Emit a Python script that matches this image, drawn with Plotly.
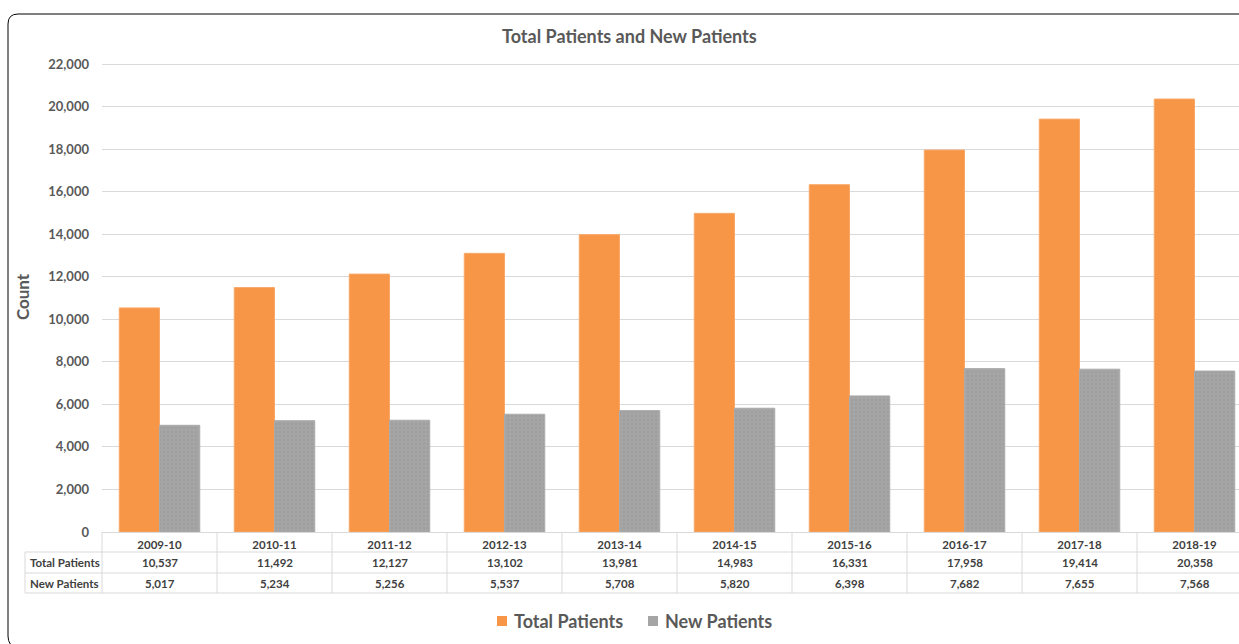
import plotly.graph_objects as go

# Fiscal years and patient counts
years = ["2009-10", "2010-11", "2011-12", "2012-13", "2013-14",
         "2014-15", "2015-16", "2016-17", "2017-18", "2018-19"]
total_patients = [10537, 11492, 12127, 13102, 13981, 14983, 16331, 17958, 19414, 20358]
new_patients = [5017, 5234, 5256, 5537, 5708, 5820, 6398, 7682, 7655, 7568]
y_ticks = [0, 2000, 4000, 6000, 8000, 10000, 12000, 14000, 16000, 18000, 20000, 22000]
series_names = ["Total Patients", "New Patients"]

W, H = 1239, 644
ML, MB = 102, 112
Y_TOP = 22100            # small headroom so the 22,000 gridline is drawn
PX_PER_UNIT = 468 / 22000
MT = round(64 - (Y_TOP - 22000) * PX_PER_UNIT)
PW = W - ML
PH = H - MT - MB
CAT_PX = 115  # pixel width of one category slot

FONT = "Lato"
TXT = "#595959"
CELL_TXT = "#404040"
GRID = "#D9D9D9"
ORANGE = "#F79646"
GRAY = "#A5A5A5"
COLORS = [ORANGE, GRAY]


def px(x):
    return (x - ML) / PW


def py(y):
    return (H - MB - y) / PH


fig = go.Figure()
fig.add_trace(go.Bar(
    x=years, y=total_patients, name=series_names[0], showlegend=False,
    marker=dict(color=ORANGE, line=dict(color="#F9A868", width=1)),
))
fig.add_trace(go.Bar(
    x=years, y=new_patients, name=series_names[1], showlegend=False,
    marker=dict(color=GRAY, line=dict(color="#ABABAB", width=1),
                pattern=dict(shape=".", fgcolor="#969696", bgcolor=GRAY,
                             size=4, solidity=0.25)),
))

shapes = []
# data table grid under the axis
for y in [552, 573, 593]:
    shapes.append(dict(type="line", xref="paper", yref="paper",
                       x0=px(25), x1=1.05, y0=py(y), y1=py(y),
                       line=dict(color=GRID, width=1)))
shapes.append(dict(type="line", xref="paper", yref="paper",
                   x0=px(25), x1=px(25), y0=py(552), y1=py(593),
                   line=dict(color=GRID, width=1)))
shapes.append(dict(type="line", xref="paper", yref="paper",
                   x0=0, x1=0, y0=py(532), y1=py(593),
                   line=dict(color=GRID, width=1)))
for i in range(1, len(years) + 1):
    shapes.append(dict(type="line", xref="x", yref="paper",
                       x0=i - 0.5, x1=i - 0.5, y0=py(532), y1=py(593),
                       line=dict(color=GRID, width=1)))

# rounded chart frame
frame = (f"M {px(17)},{py(648)} Q {px(8)},{py(646)} {px(8)},{py(636)} "
         f"L {px(8)},{py(24)} Q {px(8)},{py(14)} {px(18)},{py(14)} "
         f"L {px(1260)},{py(14)}")
shapes.append(dict(type="path", xref="paper", yref="paper", path=frame,
                   line=dict(color="#000000", width=1)))

annotations = []
rows = [(series_names[0], total_patients, 562), (series_names[1], new_patients, 583)]
for label, vals, yc in rows:
    annotations.append(dict(xref="paper", yref="paper", x=px(28), y=py(yc),
                            text=label, showarrow=False, xanchor="left", yanchor="middle",
                            font=dict(family=FONT, size=11.5, color=CELL_TXT, weight="bold")))
    for i, v in enumerate(vals):
        annotations.append(dict(xref="x", yref="paper", x=i, y=py(yc),
                                text=f"{v:,}", showarrow=False, xanchor="center",
                                yanchor="middle",
                                font=dict(family=FONT, size=11.5, color=CELL_TXT, weight="bold")))

# legend: colour swatch followed by series name
legend_left = [497, 648]
for name, color, x0 in zip(series_names, COLORS, legend_left):
    shapes.append(dict(type="rect", xref="paper", yref="paper",
                       x0=px(x0), x1=px(x0 + 10), y0=py(616), y1=py(626),
                       fillcolor=color, line=dict(width=0)))
    annotations.append(dict(xref="paper", yref="paper", x=px(x0 + 15), y=py(621),
                            text=name, showarrow=False, xanchor="left", yanchor="middle",
                            font=dict(family=FONT, size=18, color=TXT, weight="bold")))

fig.update_layout(
    width=W, height=H,
    margin=dict(l=ML, r=0, t=MT, b=MB),
    paper_bgcolor="white", plot_bgcolor="white",
    barmode="group", bargap=0.3, bargroupgap=0,
    showlegend=False,
    title=dict(text="Total Patients and New Patients", x=0.508, y=1 - 37 / H,
               xanchor="center", yanchor="middle",
               font=dict(family=FONT, size=18, color=TXT, weight="bold")),
    xaxis=dict(type="category", range=[-0.5, -0.5 + PW / CAT_PX], showgrid=False,
               showline=True, linecolor=GRID, linewidth=1,
               ticks="", tickfont=dict(family=FONT, size=11.5, color=CELL_TXT, weight="bold"),
               ticklabelstandoff=2, fixedrange=True),
    yaxis=dict(range=[0, Y_TOP], tickvals=y_ticks,
               ticktext=[f"{t:,}" for t in y_ticks],
               showgrid=True, gridcolor=GRID, gridwidth=1, zeroline=False,
               ticks="", ticklabelstandoff=12,
               tickfont=dict(family=FONT, size=13, color=TXT, weight="bold"),
               title=dict(text="Count", standoff=14,
                          font=dict(family=FONT, size=17, color=TXT, weight="bold"))),
    shapes=shapes, annotations=annotations,
)

fig.write_html("out.html")
